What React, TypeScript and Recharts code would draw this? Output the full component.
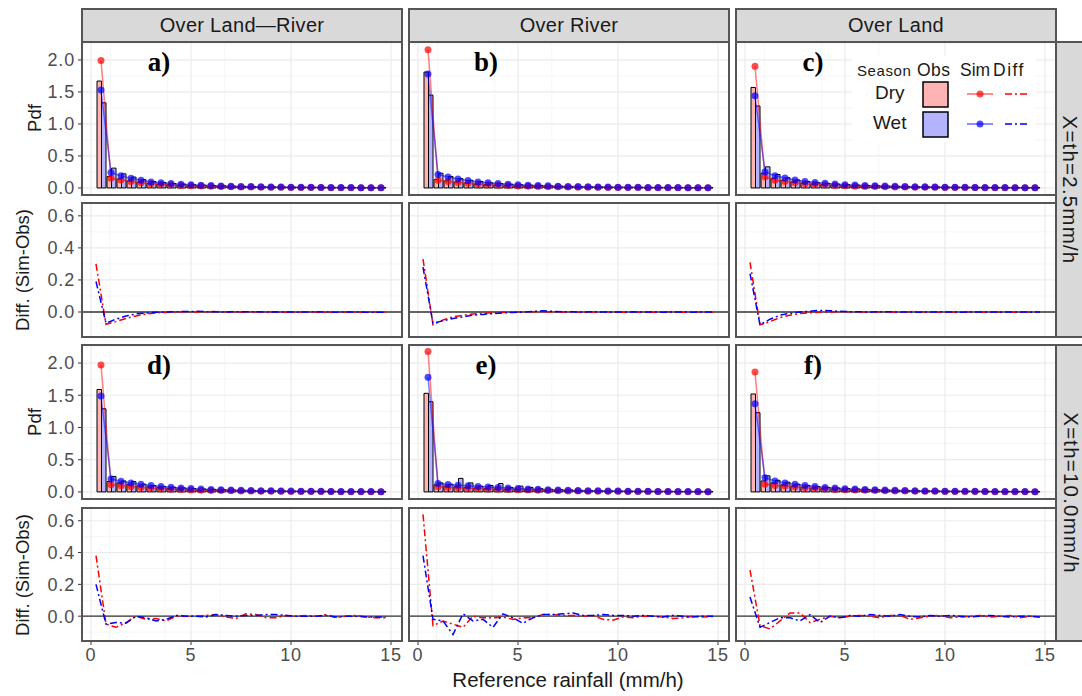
import React from "react";
import {
  ComposedChart,
  Bar,
  Line,
  XAxis,
  YAxis,
  CartesianGrid,
  ReferenceLine,
  ReferenceDot,
} from "recharts";

// bin positions (mm/h)
const pdfX = [0.5, 1, 1.5, 2, 2.5, 3, 3.5, 4, 4.5, 5, 5.5, 6, 6.5, 7, 7.5, 8, 8.5, 9, 9.5, 10, 10.5, 11, 11.5, 12, 12.5, 13, 13.5, 14, 14.5];
const diffX = [0.25, 0.75, 1.25, 1.75, 2.25, 2.75, 3.25, 3.75, 4.25, 4.75, 5.25, 5.75, 6.25, 6.75, 7.25, 7.75, 8.25, 8.75, 9.25, 9.75, 10.25, 10.75, 11.25, 11.75, 12.25, 12.75, 13.25, 13.75, 14.25, 14.75];

const columns = ["Over Land\u2014River", "Over River", "Over Land"];
const rowStrips = ["X=th=2.5mm/h", "X=th=10.0mm/h"];
const tags = ["a)", "b)", "c)", "d)", "e)", "f)"];

const xTicks = [0, 5, 10, 15];
const xMinor = [2.5, 7.5, 12.5];
const pdfTicks = [0, 0.5, 1, 1.5, 2];
const pdfMinor = [0.25, 0.75, 1.25, 1.75, 2.25];
const diffTicks = [0, 0.2, 0.4, 0.6];
const diffMinor = [-0.1, 0.1, 0.3, 0.5];

// a) Over Land-River, th=2.5
const obsDryA = [1.67, 0.18, 0.14, 0.11, 0.09, 0.07, 0.06, 0.05, 0.04, 0.035, 0.03, 0.025, 0.021, 0.018, 0.015, 0.013, 0.011, 0.01, 0.009, 0.008, 0.007, 0.006, 0.005, 0.005, 0.004, 0.004, 0.003, 0.003, 0.003];
const obsWetA = [1.33, 0.31, 0.22, 0.17, 0.13, 0.1, 0.085, 0.07, 0.06, 0.05, 0.044, 0.038, 0.033, 0.028, 0.024, 0.021, 0.018, 0.016, 0.014, 0.012, 0.011, 0.01, 0.009, 0.008, 0.007, 0.006, 0.005, 0.005, 0.004];
const simDryA = [1.99, 0.15, 0.125, 0.1, 0.08, 0.065, 0.055, 0.046, 0.04, 0.034, 0.029, 0.025, 0.021, 0.018, 0.016, 0.014, 0.012, 0.011, 0.01, 0.009, 0.008, 0.007, 0.006, 0.005, 0.005, 0.004, 0.004, 0.003, 0.003];
const simWetA = [1.53, 0.24, 0.19, 0.15, 0.12, 0.095, 0.08, 0.068, 0.058, 0.05, 0.043, 0.037, 0.032, 0.028, 0.024, 0.021, 0.018, 0.016, 0.014, 0.012, 0.011, 0.01, 0.009, 0.008, 0.007, 0.006, 0.005, 0.005, 0.004];
const diffDryA = [0.3, -0.077, -0.06, -0.04, -0.025, -0.012, -0.006, -0.003, 0.0, 0.002, 0.0, 0.001, 0.003, 0.001, 0.0, -0.001, 0.001, 0.002, 0.0, -0.001, 0.0, 0.001, 0.0, -0.002, 0.0, 0.001, 0.0, -0.001, 0.0, -0.001];
const diffWetA = [0.19, -0.07, -0.045, -0.025, -0.012, -0.006, -0.002, 0.0, 0.002, 0.003, 0.004, 0.002, 0.001, 0.0, 0.001, 0.002, 0.001, 0.0, 0.001, 0.0, -0.001, 0.0, 0.001, 0.0, -0.001, 0.0, 0.0, -0.001, -0.001, -0.002];

// b) Over River, th=2.5
const obsDryB = [1.81, 0.13, 0.11, 0.09, 0.075, 0.062, 0.052, 0.044, 0.037, 0.031, 0.027, 0.023, 0.02, 0.017, 0.015, 0.013, 0.011, 0.01, 0.009, 0.008, 0.007, 0.006, 0.005, 0.005, 0.004, 0.004, 0.003, 0.003, 0.003];
const obsWetB = [1.45, 0.23, 0.18, 0.145, 0.12, 0.1, 0.08, 0.068, 0.058, 0.05, 0.043, 0.037, 0.032, 0.028, 0.024, 0.021, 0.018, 0.016, 0.014, 0.012, 0.011, 0.01, 0.009, 0.008, 0.007, 0.006, 0.005, 0.005, 0.004];
const simDryB = [2.16, 0.12, 0.1, 0.085, 0.072, 0.06, 0.05, 0.043, 0.037, 0.031, 0.027, 0.023, 0.02, 0.017, 0.015, 0.013, 0.011, 0.01, 0.009, 0.008, 0.007, 0.006, 0.005, 0.005, 0.004, 0.004, 0.003, 0.003, 0.003];
const simWetB = [1.78, 0.21, 0.17, 0.14, 0.115, 0.095, 0.08, 0.068, 0.058, 0.05, 0.044, 0.038, 0.033, 0.028, 0.024, 0.021, 0.018, 0.016, 0.014, 0.012, 0.011, 0.01, 0.009, 0.008, 0.007, 0.006, 0.005, 0.005, 0.004];
const diffDryB = [0.33, -0.08, -0.05, -0.03, -0.02, -0.012, -0.008, -0.004, -0.002, 0.0, 0.0, 0.001, 0.002, 0.0, 0.001, 0.0, -0.002, 0.0, 0.001, 0.0, -0.001, 0.0, 0.0, -0.001, 0.001, 0.0, -0.001, 0.0, 0.0, -0.001];
const diffWetB = [0.28, -0.07, -0.055, -0.04, -0.03, -0.02, -0.015, -0.01, -0.006, -0.003, 0.0, 0.003, 0.008, 0.004, 0.002, 0.001, 0.0, 0.001, 0.0, -0.001, 0.0, 0.001, 0.0, 0.0, -0.001, 0.0, 0.0, -0.001, 0.0, 0.0];

// c) Over Land, th=2.5
const obsDryC = [1.57, 0.23, 0.15, 0.12, 0.095, 0.077, 0.063, 0.052, 0.043, 0.036, 0.03, 0.026, 0.022, 0.019, 0.016, 0.014, 0.012, 0.01, 0.009, 0.008, 0.007, 0.006, 0.005, 0.005, 0.004, 0.004, 0.003, 0.003, 0.003];
const obsWetC = [1.28, 0.33, 0.21, 0.16, 0.125, 0.1, 0.082, 0.07, 0.06, 0.051, 0.044, 0.038, 0.033, 0.028, 0.024, 0.021, 0.018, 0.016, 0.014, 0.012, 0.011, 0.01, 0.009, 0.008, 0.007, 0.006, 0.005, 0.005, 0.004];
const simDryC = [1.9, 0.17, 0.12, 0.1, 0.08, 0.066, 0.055, 0.046, 0.039, 0.033, 0.028, 0.024, 0.021, 0.018, 0.016, 0.014, 0.012, 0.011, 0.01, 0.009, 0.008, 0.007, 0.006, 0.005, 0.005, 0.004, 0.004, 0.003, 0.003];
const simWetC = [1.44, 0.25, 0.19, 0.155, 0.125, 0.1, 0.085, 0.072, 0.061, 0.052, 0.045, 0.039, 0.034, 0.029, 0.025, 0.022, 0.019, 0.017, 0.015, 0.013, 0.011, 0.01, 0.009, 0.008, 0.007, 0.006, 0.005, 0.005, 0.004];
const diffDryC = [0.31, -0.08, -0.06, -0.035, -0.02, -0.01, -0.005, -0.002, 0.0, 0.002, 0.001, 0.0, 0.0, 0.001, 0.0, -0.001, 0.0, 0.002, 0.0, -0.001, 0.0, 0.0, 0.001, 0.0, -0.001, 0.0, 0.0, -0.002, 0.0, -0.001];
const diffWetC = [0.24, -0.08, -0.045, -0.02, -0.008, 0.0, 0.005, 0.01, 0.008, 0.004, 0.002, 0.001, 0.0, 0.002, 0.001, 0.0, 0.0, -0.001, 0.0, 0.001, 0.0, -0.001, 0.0, 0.0, 0.0, -0.001, 0.0, 0.0, -0.001, 0.0];

// d) Over Land-River, th=10.0
const obsDryD = [1.59, 0.16, 0.14, 0.12, 0.095, 0.08, 0.065, 0.054, 0.045, 0.038, 0.032, 0.027, 0.023, 0.02, 0.017, 0.015, 0.013, 0.011, 0.01, 0.009, 0.008, 0.007, 0.006, 0.005, 0.005, 0.004, 0.004, 0.003, 0.003];
const obsWetD = [1.29, 0.24, 0.17, 0.16, 0.12, 0.1, 0.085, 0.072, 0.061, 0.052, 0.045, 0.039, 0.034, 0.029, 0.025, 0.022, 0.019, 0.017, 0.015, 0.013, 0.011, 0.01, 0.009, 0.008, 0.007, 0.006, 0.005, 0.005, 0.004];
const simDryD = [1.97, 0.11, 0.095, 0.08, 0.068, 0.058, 0.049, 0.042, 0.036, 0.031, 0.027, 0.023, 0.02, 0.017, 0.015, 0.013, 0.011, 0.01, 0.009, 0.008, 0.007, 0.006, 0.005, 0.005, 0.004, 0.004, 0.003, 0.003, 0.003];
const simWetD = [1.49, 0.2, 0.165, 0.14, 0.12, 0.1, 0.085, 0.072, 0.061, 0.052, 0.045, 0.039, 0.034, 0.029, 0.025, 0.022, 0.019, 0.017, 0.015, 0.013, 0.011, 0.01, 0.009, 0.008, 0.007, 0.006, 0.005, 0.005, 0.004];
const diffDryD = [0.38, -0.05, -0.07, -0.04, 0.0, -0.02, -0.015, -0.03, 0.0, 0.0, 0.0, 0.005, 0.01, -0.005, -0.015, 0.015, 0.01, -0.01, -0.01, 0.005, 0.0, 0.005, 0.0, 0.01, -0.01, 0.0, 0.005, -0.005, -0.01, -0.01];
const diffWetD = [0.2, -0.05, -0.04, -0.045, 0.0, -0.01, -0.03, -0.02, 0.005, 0.0, 0.0, -0.005, 0.01, 0.005, 0.0, 0.005, 0.005, 0.01, 0.01, 0.005, 0.0, 0.0, 0.0, 0.005, -0.005, 0.0, 0.0, -0.005, -0.005, -0.005];

// e) Over River, th=10.0
const obsDryE = [1.53, 0.11, 0.09, 0.08, 0.07, 0.06, 0.052, 0.045, 0.039, 0.034, 0.03, 0.026, 0.022, 0.019, 0.016, 0.014, 0.012, 0.011, 0.01, 0.009, 0.008, 0.007, 0.006, 0.005, 0.005, 0.004, 0.004, 0.003, 0.003];
const obsWetE = [1.4, 0.14, 0.12, 0.21, 0.14, 0.09, 0.1, 0.13, 0.07, 0.09, 0.07, 0.05, 0.04, 0.035, 0.03, 0.025, 0.02, 0.018, 0.015, 0.012, 0.011, 0.01, 0.009, 0.008, 0.007, 0.006, 0.005, 0.004, 0.004];
const simDryE = [2.18, 0.08, 0.07, 0.065, 0.058, 0.052, 0.046, 0.041, 0.036, 0.032, 0.028, 0.024, 0.021, 0.018, 0.016, 0.014, 0.012, 0.011, 0.01, 0.009, 0.008, 0.007, 0.006, 0.005, 0.005, 0.004, 0.004, 0.003, 0.003];
const simWetE = [1.78, 0.13, 0.115, 0.105, 0.095, 0.085, 0.076, 0.068, 0.06, 0.053, 0.046, 0.04, 0.035, 0.03, 0.026, 0.022, 0.019, 0.017, 0.015, 0.013, 0.011, 0.01, 0.009, 0.008, 0.007, 0.006, 0.005, 0.005, 0.004];
const diffDryE = [0.64, -0.06, -0.03, -0.05, -0.07, 0.0, -0.01, -0.01, -0.005, -0.02, -0.01, -0.01, 0.01, 0.01, 0.005, 0.005, 0.0, 0.005, -0.02, -0.025, -0.005, -0.01, 0.0, 0.0, -0.005, -0.015, -0.01, 0.0, -0.005, -0.002];
const diffWetE = [0.38, -0.02, -0.03, -0.115, 0.015, -0.03, -0.02, -0.07, 0.015, -0.01, -0.045, -0.01, 0.01, 0.01, 0.015, 0.02, 0.005, 0.005, 0.01, 0.005, 0.005, 0.0, 0.005, 0.0, -0.005, 0.005, 0.0, -0.005, 0.0, 0.0];

// f) Over Land, th=10.0
const obsDryF = [1.52, 0.17, 0.14, 0.11, 0.09, 0.074, 0.061, 0.05, 0.042, 0.035, 0.03, 0.025, 0.021, 0.018, 0.016, 0.014, 0.012, 0.01, 0.009, 0.008, 0.007, 0.006, 0.005, 0.005, 0.004, 0.004, 0.003, 0.003, 0.003];
const obsWetF = [1.23, 0.25, 0.18, 0.15, 0.12, 0.1, 0.083, 0.07, 0.06, 0.051, 0.044, 0.038, 0.033, 0.028, 0.024, 0.021, 0.018, 0.016, 0.014, 0.012, 0.011, 0.01, 0.009, 0.008, 0.007, 0.006, 0.005, 0.005, 0.004];
const simDryF = [1.86, 0.12, 0.1, 0.09, 0.075, 0.063, 0.053, 0.045, 0.038, 0.032, 0.028, 0.024, 0.02, 0.018, 0.015, 0.013, 0.012, 0.01, 0.009, 0.008, 0.007, 0.006, 0.005, 0.005, 0.004, 0.004, 0.003, 0.003, 0.003];
const simWetF = [1.37, 0.22, 0.17, 0.14, 0.12, 0.1, 0.083, 0.07, 0.06, 0.051, 0.044, 0.038, 0.033, 0.028, 0.024, 0.021, 0.018, 0.016, 0.014, 0.012, 0.011, 0.01, 0.009, 0.008, 0.007, 0.006, 0.005, 0.005, 0.004];
const diffDryF = [0.29, -0.06, -0.08, -0.03, 0.02, 0.02, -0.04, -0.02, 0.0, -0.01, 0.0, 0.005, 0.0, -0.01, 0.005, 0.005, -0.02, -0.01, 0.0, 0.005, -0.01, -0.005, 0.0, 0.005, -0.005, 0.0, 0.005, -0.01, 0.0, -0.005];
const diffWetF = [0.12, -0.07, -0.04, -0.01, -0.01, -0.03, 0.01, -0.04, 0.0, -0.01, 0.005, 0.0, 0.01, 0.005, 0.0, 0.01, 0.0, -0.005, 0.005, 0.0, 0.005, 0.0, -0.005, 0.0, 0.005, 0.0, -0.005, 0.0, 0.0, -0.005];

const FONT = '"Liberation Sans", Arial, Helvetica, sans-serif';
const RED = "#FF0000";
const BLUE = "#0000FF";
const PINK = "#FFB3B3";
const LAVENDER = "#B3B3FF";
const DOTDASH = "7 3 2 3";

const X_DOMAIN: [number, number] = [-0.45, 15.55];
const PDF_DOMAIN: [number, number] = [-0.11, 2.28];
const DIFF_DOMAIN: [number, number] = [-0.156, 0.68];

const COL_LEFT = [82, 409, 736];
const PANEL_W = 320;
const ROWS = [
  { top: 42, h: 153 },
  { top: 203, h: 134 },
  { top: 345, h: 154 },
  { top: 508, h: 133 },
];
const AX_W = 54;
const AX_H = 34;
const PAD = 10; // room below the plot for the lowest tick label

const tickStyle = { fontSize: 18, fill: "#4D4D4D", fontFamily: FONT, letterSpacing: 0.8 };

interface PanelProps {
  col: number;
  row: number;
  showX: boolean;
}

function Frame({ col, row }: { col: number; row: number }) {
  return (
    <div
      style={{
        position: "absolute",
        left: COL_LEFT[col] - 1,
        top: ROWS[row].top - 1,
        width: PANEL_W + 2,
        height: ROWS[row].h + 2,
        border: "2px solid #555",
        boxSizing: "border-box",
        pointerEvents: "none",
      }}
    />
  );
}

function PdfPanel({
  col,
  row,
  obsDry,
  obsWet,
  simDry,
  simWet,
  tag,
}: PanelProps & { obsDry: number[]; obsWet: number[]; simDry: number[]; simWet: number[]; tag: string }) {
  const data = pdfX.map((x, i) => ({
    x,
    obsDry: obsDry[i],
    obsWet: obsWet[i],
    simDry: simDry[i],
    simWet: simWet[i],
  }));
  const showY = col === 0;
  const axW = showY ? AX_W : 0;
  return (
    <div style={{ position: "absolute", left: COL_LEFT[col] - axW, top: ROWS[row].top }}>
      <ComposedChart
        width={PANEL_W + axW}
        height={ROWS[row].h + PAD}
        data={data}
        margin={{ top: 0, right: 0, bottom: PAD, left: 0 }}
        barGap={0}
      >
        <CartesianGrid xAxisId="minor" yAxisId="minor" stroke="#F2F2F2" strokeWidth={0.7} />
        <CartesianGrid stroke="#EBEBEB" strokeWidth={1.2} />
        <XAxis xAxisId="minor" type="number" domain={X_DOMAIN} ticks={xMinor} hide allowDataOverflow />
        <YAxis yAxisId="minor" type="number" domain={PDF_DOMAIN} ticks={pdfMinor} hide allowDataOverflow />
        <XAxis dataKey="x" type="number" domain={X_DOMAIN} ticks={xTicks} allowDataOverflow hide />
        <YAxis
          type="number"
          domain={PDF_DOMAIN}
          ticks={pdfTicks}
          allowDataOverflow
          hide={!showY}
          width={AX_W}
          interval={0}
          axisLine={false}
          tickSize={4}
          tickMargin={3}
          tickLine={{ stroke: "#333" }}
          tick={tickStyle}
          tickFormatter={(v: number) => v.toFixed(1)}
        />
        <Bar dataKey="obsDry" fill={PINK} stroke="#000" strokeWidth={1} barSize={5} isAnimationActive={false} />
        <Bar dataKey="obsWet" fill={LAVENDER} stroke="#000" strokeWidth={1} barSize={5} isAnimationActive={false} />
        <Line
          dataKey="simDry"
          type="linear"
          stroke={RED}
          strokeOpacity={0.5}
          strokeWidth={1.5}
          dot={{ r: 3.5, fill: RED, fillOpacity: 0.7, stroke: "none" }}
          activeDot={false}
          isAnimationActive={false}
        />
        <Line
          dataKey="simWet"
          type="linear"
          stroke={BLUE}
          strokeOpacity={0.5}
          strokeWidth={1.5}
          dot={{ r: 3.5, fill: BLUE, fillOpacity: 0.7, stroke: "none" }}
          activeDot={false}
          isAnimationActive={false}
        />
        <ReferenceDot
          x={3.4}
          y={1.98}
          r={1}
          fill="none"
          stroke="none"
          label={{
            value: tag,
            position: "center",
            fontSize: 27,
            fontWeight: "bold",
            fontFamily: '"Liberation Serif", "Times New Roman", serif',
            fill: "#000",
          }}
        />
      </ComposedChart>
    </div>
  );
}

function DiffPanel({
  col,
  row,
  showX,
  dry,
  wet,
}: PanelProps & { dry: number[]; wet: number[] }) {
  const data = diffX.map((x, i) => ({ x, dry: dry[i], wet: wet[i] }));
  const showY = col === 0;
  const axW = showY ? AX_W : 0;
  const axH = showX ? AX_H : 0;
  return (
    <div style={{ position: "absolute", left: COL_LEFT[col] - axW, top: ROWS[row].top }}>
      <ComposedChart
        width={PANEL_W + axW}
        height={ROWS[row].h + axH}
        data={data}
        margin={{ top: 0, right: 0, bottom: 0, left: 0 }}
      >
        <CartesianGrid xAxisId="minor" yAxisId="minor" stroke="#F2F2F2" strokeWidth={0.7} />
        <CartesianGrid stroke="#EBEBEB" strokeWidth={1.2} />
        <XAxis xAxisId="minor" type="number" domain={X_DOMAIN} ticks={xMinor} hide allowDataOverflow />
        <YAxis yAxisId="minor" type="number" domain={DIFF_DOMAIN} ticks={diffMinor} hide allowDataOverflow />
        <XAxis
          dataKey="x"
          type="number"
          domain={X_DOMAIN}
          ticks={xTicks}
          allowDataOverflow
          hide={!showX}
          height={AX_H}
          interval={0}
          axisLine={false}
          tickSize={4}
          tickMargin={3}
          tickLine={{ stroke: "#333" }}
          tick={tickStyle}
        />
        <YAxis
          type="number"
          domain={DIFF_DOMAIN}
          ticks={diffTicks}
          allowDataOverflow
          hide={!showY}
          width={AX_W}
          interval={0}
          axisLine={false}
          tickSize={4}
          tickMargin={3}
          tickLine={{ stroke: "#333" }}
          tick={tickStyle}
          tickFormatter={(v: number) => v.toFixed(1)}
        />
        <ReferenceLine y={0} stroke="#333" strokeWidth={1.3} />
        <Line
          dataKey="dry"
          type="linear"
          stroke={RED}
          strokeWidth={1.5}
          strokeDasharray={DOTDASH}
          dot={false}
          activeDot={false}
          isAnimationActive={false}
        />
        <Line
          dataKey="wet"
          type="linear"
          stroke={BLUE}
          strokeWidth={1.5}
          strokeDasharray={DOTDASH}
          dot={false}
          activeDot={false}
          isAnimationActive={false}
        />
      </ComposedChart>
    </div>
  );
}

function RotatedTitle({ text, cx, cy, angle, size }: { text: string; cx: number; cy: number; angle: number; size: number }) {
  return (
    <div
      style={{
        position: "absolute",
        left: cx - 150,
        top: cy - 15,
        width: 300,
        height: 30,
        lineHeight: "30px",
        textAlign: "center",
        fontSize: size,
        color: "#1A1A1A",
        whiteSpace: "nowrap",
        transform: `rotate(${angle}deg)`,
      }}
    >
      {text}
    </div>
  );
}

function SeasonLegend() {
  return (
    <div style={{ position: "absolute", left: 852, top: 56, width: 184, height: 86, background: "#fff" }}>
      <svg width={184} height={86} style={{ display: "block", fontFamily: FONT }}>
        <text x={5} y={20} fontSize={15} letterSpacing={0.6} fill="#1A1A1A">Season</text>
        <text x={65} y={20} fontSize={17.5} letterSpacing={0.5} fill="#1A1A1A">Obs</text>
        <text x={108} y={20} fontSize={17.5} fill="#1A1A1A">Sim</text>
        <text x={141} y={20} fontSize={17.5} letterSpacing={1.5} fill="#1A1A1A">Diff</text>
        <text x={23} y={43} fontSize={19} fill="#1A1A1A">Dry</text>
        <text x={21} y={73} fontSize={19} fill="#1A1A1A">Wet</text>
        <rect x={71} y={26} width={25} height={25} fill={PINK} stroke="#000" strokeWidth={1.5} />
        <rect x={71} y={56} width={25} height={25} fill={LAVENDER} stroke="#000" strokeWidth={1.5} />
        <line x1={115} y1={38} x2={141} y2={38} stroke={RED} strokeOpacity={0.6} strokeWidth={1.5} />
        <circle cx={128} cy={38} r={3.5} fill={RED} fillOpacity={0.7} />
        <line x1={115} y1={68} x2={141} y2={68} stroke={BLUE} strokeOpacity={0.6} strokeWidth={1.5} />
        <circle cx={128} cy={68} r={3.5} fill={BLUE} fillOpacity={0.7} />
        <line x1={153} y1={38} x2={176} y2={38} stroke={RED} strokeWidth={1.5} strokeDasharray={DOTDASH} />
        <line x1={153} y1={68} x2={176} y2={68} stroke={BLUE} strokeWidth={1.5} strokeDasharray={DOTDASH} />
      </svg>
    </div>
  );
}

export default function App() {
  const pdfSets = [
    [obsDryA, obsWetA, simDryA, simWetA],
    [obsDryB, obsWetB, simDryB, simWetB],
    [obsDryC, obsWetC, simDryC, simWetC],
    [obsDryD, obsWetD, simDryD, simWetD],
    [obsDryE, obsWetE, simDryE, simWetE],
    [obsDryF, obsWetF, simDryF, simWetF],
  ];
  const diffSets = [
    [diffDryA, diffWetA],
    [diffDryB, diffWetB],
    [diffDryC, diffWetC],
    [diffDryD, diffWetD],
    [diffDryE, diffWetE],
    [diffDryF, diffWetF],
  ];

  return (
    <div
      style={{
        position: "absolute",
        left: 0,
        top: 0,
        width: 1082,
        height: 696,
        overflow: "hidden",
        background: "#fff",
        fontFamily: FONT,
      }}
    >
      {columns.map((name, c) => (
        <div
          key={name}
          style={{
            position: "absolute",
            left: COL_LEFT[c] - 1,
            top: 8,
            width: PANEL_W + 2,
            height: 35,
            background: "#D9D9D9",
            border: "2px solid #555",
            boxSizing: "border-box",
            display: "flex",
            alignItems: "center",
            justifyContent: "center",
            fontSize: 20,
            letterSpacing: 0.3,
            color: "#1A1A1A",
          }}
        >
          {name}
        </div>
      ))}

      {rowStrips.map((name, r) => {
        const top = ROWS[r * 2].top - 1;
        const bottom = ROWS[r * 2 + 1].top + ROWS[r * 2 + 1].h + 1;
        return (
          <div
            key={name}
            style={{
              position: "absolute",
              left: 1055,
              top,
              width: 29,
              height: bottom - top,
              background: "#D9D9D9",
              border: "2px solid #555",
              borderRight: "none",
              boxSizing: "border-box",
              display: "flex",
              alignItems: "center",
              justifyContent: "center",
            }}
          >
            <span style={{ transform: "rotate(90deg)", whiteSpace: "nowrap", fontSize: 20.5, letterSpacing: 1.2, lineHeight: "22px", color: "#1A1A1A" }}>
              {name}
            </span>
          </div>
        );
      })}

      {[0, 1].map((r) =>
        [0, 1, 2].map((c) => {
          const k = r * 3 + c;
          const [od, ow, sd, sw] = pdfSets[k];
          const [dd, dw] = diffSets[k];
          return (
            <React.Fragment key={`p-${k}`}>
              <PdfPanel col={c} row={r * 2} showX={false} obsDry={od} obsWet={ow} simDry={sd} simWet={sw} tag={tags[k]} />
              <DiffPanel col={c} row={r * 2 + 1} showX={r === 1} dry={dd} wet={dw} />
              <Frame col={c} row={r * 2} />
              <Frame col={c} row={r * 2 + 1} />
            </React.Fragment>
          );
        })
      )}

      <SeasonLegend />

      <RotatedTitle text="Pdf" cx={35} cy={118} angle={-90} size={18.5} />
      <RotatedTitle text="Diff. (Sim-Obs)" cx={23} cy={270} angle={-90} size={18.5} />
      <RotatedTitle text="Pdf" cx={35} cy={422} angle={-90} size={18.5} />
      <RotatedTitle text="Diff. (Sim-Obs)" cx={23} cy={575} angle={-90} size={18.5} />
      <RotatedTitle text="Reference rainfall (mm/h)" cx={568} cy={680} angle={0} size={20.5} />
    </div>
  );
}
